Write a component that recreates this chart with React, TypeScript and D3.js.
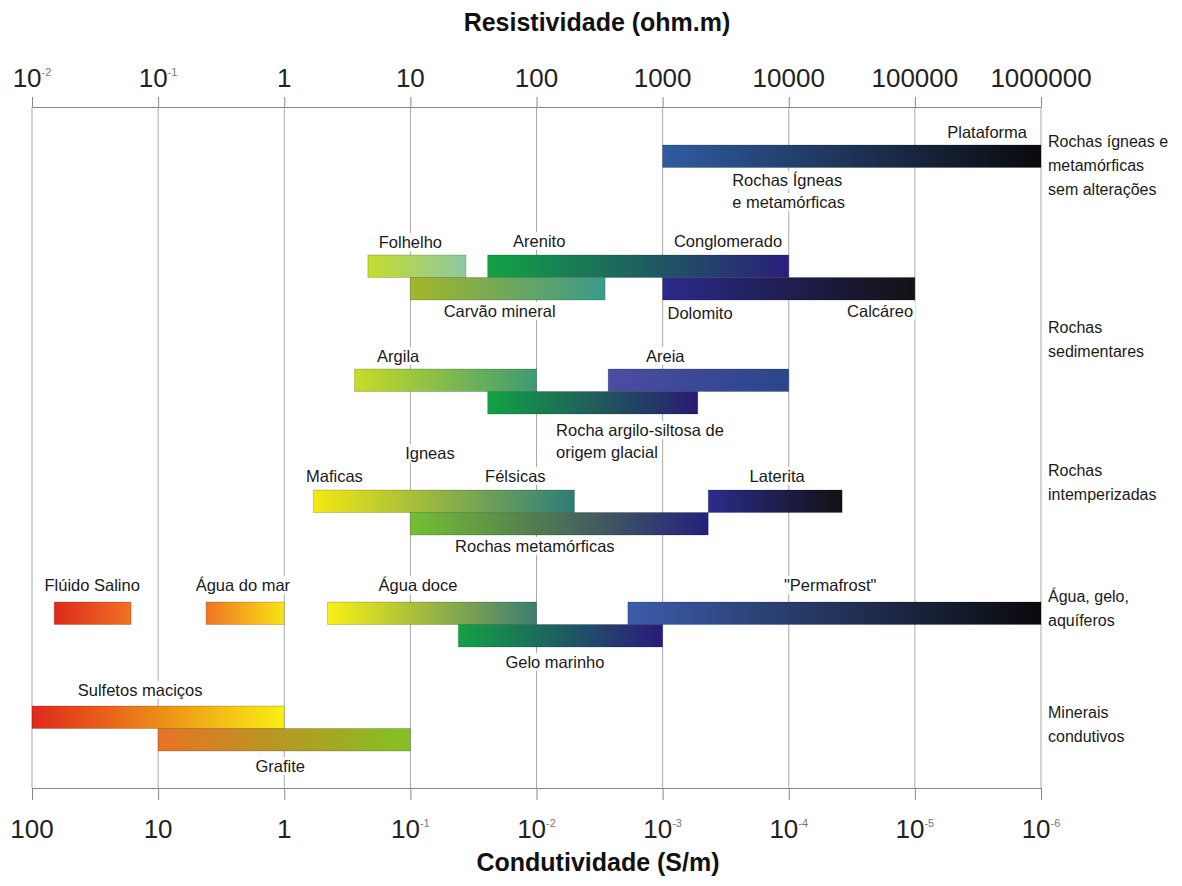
import React, { useEffect, useRef } from 'react';
import * as d3 from 'd3';

// axis ticks (resistivity, ohm.m) and their printed labels
const resistTicks = [0.01, 0.1, 1, 10, 100, 1000, 10000, 100000, 1000000];
const topTickLabels = ['10^-2', '10^-1', '1', '10', '100', '1000', '10000', '100000', '1000000'];
const bottomTickLabels = ['100', '10', '1', '10^-1', '10^-2', '10^-3', '10^-4', '10^-5', '10^-6'];

// bars: resistivity ranges
const barNames = [
  'Plataforma', 'Folhelho', 'Arenito', 'Carvão mineral', 'Dolomito-Calcáreo',
  'Argila', 'Areia', 'Rocha argilo-siltosa', 'Máficas-Félsicas', 'Laterita',
  'Rochas metamórficas', 'Flúido Salino', 'Água do mar', 'Água doce', 'Permafrost',
  'Gelo marinho', 'Sulfetos maciços', 'Grafite',
];
const barLow = [1000, 4.6, 41, 10, 1000, 3.6, 370, 41, 1.7, 2300, 10, 0.015, 0.24, 2.2, 530, 24, 0.01, 0.1];
const barHigh = [1e6, 27.6, 10000, 350, 100000, 100, 10000, 1900, 200, 26500, 2300, 0.061, 1, 100, 1e6, 1000, 1, 10];
const barGroup = [0, 1, 1, 1, 1, 2, 2, 2, 3, 3, 3, 4, 4, 4, 4, 4, 5, 5];
const barRow = [0, 0, 0, 1, 1, 0, 0, 1, 0, 0, 1, 0, 0, 0, 0, 1, 0, 1];
const barColorFrom = [
  '#2f5ca0', '#c6dc2a', '#12a244', '#a4b62a', '#2c2a8c', '#c8dc26', '#4c4ca2', '#12a244', '#f4e812',
  '#2c2c8c', '#74c032', '#e0281c', '#f07424', '#f8f014', '#3c5caa', '#12a244', '#e0281c', '#e87224',
];
const barColorTo = [
  '#0a0a0c', '#8ec8a4', '#2a1e7c', '#3a9a8c', '#121214', '#3c9a74', '#2a468c', '#2a1a72', '#2c7c7a',
  '#111114', '#24207c', '#f07224', '#f8e414', '#3c7c72', '#0a0a0c', '#2a1a7c', '#f8f014', '#82c222',
];

// bar annotations: text and resistivity at its anchor
const noteTexts = [
  'Plataforma', 'Rochas Ígneas', 'e metamórficas', 'Folhelho', 'Arenito', 'Conglomerado',
  'Carvão mineral', 'Dolomito', 'Calcáreo', 'Argila', 'Areia', 'Rocha argilo-siltosa de',
  'origem glacial', 'Igneas', 'Maficas', 'Félsicas', 'Laterita', 'Rochas metamórficas',
  'Flúido Salino', 'Água do mar', 'Água doce', '"Permafrost"', 'Gelo marinho',
  'Sulfetos maciços', 'Grafite',
];
const noteValues = [
  374000, 3560, 3560, 10, 105, 3300, 51, 1980, 53000, 8, 1050, 143, 143, 14.3, 2.5, 68, 8090, 97,
  0.03, 0.47, 11.5, 21300, 140, 0.072, 0.93,
];

// category labels on the right
const categoryLines = [
  ['Rochas ígneas e', 'metamórficas', 'sem alterações'],
  ['Rochas', 'sedimentares'],
  ['Rochas', 'intemperizadas'],
  ['Água, gelo,', 'aquíferos'],
  ['Minerais', 'condutivos'],
];

// layout
const W = 1182;
const H = 886;
const plotLeft = 32;
const plotRight = 1041;
const plotTop = 107;
const plotBottom = 788;
const groupTop = [145, 255, 369, 490, 602, 706];
const rowH = 22.5;
const noteY = [138, 186, 208, 248, 247, 247, 317, 319, 317, 362, 362, 436, 458, 459, 482, 482, 482, 552, 591, 591, 591, 591, 668, 696, 772];
const noteAnchor = ['middle', 'start', 'start'];
const categoryY = [147, 333, 476, 602, 718];
const font = "'Liberation Sans', Arial, sans-serif";

const App = () => {
  const svgRef = useRef<SVGSVGElement>(null);

  useEffect(() => {
    const svg = d3.select(svgRef.current);
    svg.selectAll('*').remove();

    const x = d3.scaleLog().domain([0.01, 1e6]).range([plotLeft, plotRight]);

    const defs = svg.append('defs');
    barNames.forEach((_, i) => {
      const g = defs.append('linearGradient').attr('id', `grad${i}`).attr('x1', 0).attr('x2', 1).attr('y1', 0).attr('y2', 0);
      g.append('stop').attr('offset', 0).attr('stop-color', barColorFrom[i]);
      g.append('stop').attr('offset', 1).attr('stop-color', barColorTo[i]);
    });

    // grid lines
    svg.append('g')
      .selectAll('line')
      .data(resistTicks)
      .enter()
      .append('line')
      .attr('x1', d => x(d))
      .attr('x2', d => x(d))
      .attr('y1', plotTop)
      .attr('y2', plotBottom)
      .attr('stroke', '#a8a8a8')
      .attr('stroke-width', 1);

    // axes
    const topAxis = svg.append('g')
      .attr('transform', `translate(0,${plotTop})`)
      .call(d3.axisTop(x).tickValues(resistTicks).tickFormat(() => '').tickSize(10).tickSizeOuter(0));
    const bottomAxis = svg.append('g')
      .attr('transform', `translate(0,${plotBottom})`)
      .call(d3.axisBottom(x).tickValues(resistTicks).tickFormat(() => '').tickSize(12).tickSizeOuter(0));
    [topAxis, bottomAxis].forEach(a => {
      a.select('.domain').attr('stroke', '#888');
      a.selectAll('.tick line').attr('stroke', '#888');
    });

    const tickText = (labels: string[], y: number) => {
      labels.forEach((lab, i) => {
        const [base, exp] = lab.split('^');
        const t = svg.append('text')
          .attr('x', x(resistTicks[i]))
          .attr('y', y)
          .attr('text-anchor', 'middle')
          .attr('font-family', font)
          .attr('font-size', 26)
          .attr('fill', '#222');
        t.append('tspan').text(base);
        if (exp) {
          t.append('tspan').attr('dy', -11).attr('font-size', 11).attr('fill', '#777').text(exp);
        }
      });
    };
    tickText(topTickLabels, 87);
    tickText(bottomTickLabels, 838);

    svg.append('text')
      .attr('x', 597).attr('y', 31)
      .attr('text-anchor', 'middle')
      .attr('font-family', font).attr('font-weight', 'bold').attr('font-size', 25)
      .attr('fill', '#111')
      .text('Resistividade (ohm.m)');
    svg.append('text')
      .attr('x', 598).attr('y', 871)
      .attr('text-anchor', 'middle')
      .attr('font-family', font).attr('font-weight', 'bold').attr('font-size', 25)
      .attr('fill', '#111')
      .text('Condutividade (S/m)');

    // bars
    svg.append('g')
      .selectAll('rect')
      .data(barNames)
      .enter()
      .append('rect')
      .attr('x', (_, i) => x(barLow[i]))
      .attr('width', (_, i) => x(barHigh[i]) - x(barLow[i]))
      .attr('y', (_, i) => groupTop[barGroup[i]] + barRow[i] * rowH)
      .attr('height', rowH)
      .attr('fill', (_, i) => `url(#grad${i})`)
      .attr('stroke', 'rgba(0,0,0,0.18)')
      .attr('stroke-width', 1);

    // annotations with white backing
    const notes = svg.append('g');
    noteTexts.forEach((txt, i) => {
      const anchor = noteAnchor[i] || (i === 11 || i === 12 ? 'start' : 'middle');
      const t = notes.append('text')
        .attr('x', x(noteValues[i]))
        .attr('y', noteY[i])
        .attr('text-anchor', anchor)
        .attr('font-family', font)
        .attr('font-size', 16.5)
        .attr('fill', '#1a1a1a')
        .text(txt);
      const bb = (t.node() as SVGTextElement).getBBox();
      notes.insert('rect', () => t.node())
        .attr('x', bb.x - 2).attr('y', bb.y)
        .attr('width', bb.width + 4).attr('height', bb.height)
        .attr('fill', '#fff');
    });

    // categories
    categoryLines.forEach((lines, i) => {
      lines.forEach((line, j) => {
        svg.append('text')
          .attr('x', 1048)
          .attr('y', categoryY[i] + j * 24)
          .attr('font-family', font)
          .attr('font-size', 16)
          .attr('fill', '#1a1a1a')
          .text(line);
      });
    });
  }, []);

  return (
    <svg
      ref={svgRef}
      width={W}
      height={H}
      style={{ position: 'absolute', left: 0, top: 0, background: '#fff' }}
    />
  );
};

export default App;
